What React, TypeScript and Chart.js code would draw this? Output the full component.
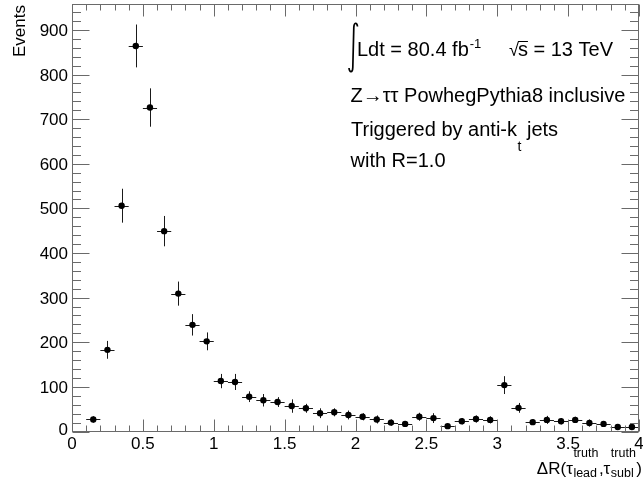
import React, { useEffect, useRef } from "react";
import { Chart, registerables } from "chart.js";

Chart.register(...registerables);

// ---- data ----
const binCenters = [
  0.15, 0.25, 0.35, 0.45, 0.55, 0.65, 0.75, 0.85, 0.95, 1.05,
  1.15, 1.25, 1.35, 1.45, 1.55, 1.65, 1.75, 1.85, 1.95, 2.05,
  2.15, 2.25, 2.35, 2.45, 2.55, 2.65, 2.75, 2.85, 2.95, 3.05,
  3.15, 3.25, 3.35, 3.45, 3.55, 3.65, 3.75, 3.85, 3.95,
];
const events = [
  27, 183, 506, 864, 726, 449, 309, 239, 202, 113,
  111, 78, 70, 66, 57, 52, 41, 43, 37, 33,
  27, 20, 17, 33, 30, 12, 23, 28, 26, 104,
  53, 21, 26, 23, 26, 19, 17, 10, 10,
];
const eventErrors = [
  7, 20, 38, 48, 43, 34, 27, 24, 20, 16,
  18, 12, 14, 11, 15, 10, 11, 9, 10, 8,
  9, 7, 6, 9, 11, 5, 7, 8, 8, 20,
  11, 6, 9, 7, 7, 8, 6, 5, 5,
];
const binHalfWidth = 0.05;

const xTickValues = [0, 0.5, 1, 1.5, 2, 2.5, 3, 3.5, 4];
const xTickLabels = ["0", "0.5", "1", "1.5", "2", "2.5", "3", "3.5", "4"];
const yTickValues = [0, 100, 200, 300, 400, 500, 600, 700, 800, 900];
const yTickLabels = ["0", "100", "200", "300", "400", "500", "600", "700", "800", "900"];
const xRange = [0, 4];
const yRange = [0, 958];

const yTitle = "Events";
const annotationLines = [
  "Z\u2192\u03c4\u03c4 PowhegPythia8 inclusive",
  "Triggered by anti-k",
  "with R=1.0",
];

const FONT = '"Liberation Sans", Arial, Helvetica, sans-serif';

const rootStylePlugin = {
  id: "rootStyle",
  beforeDatasetsDraw(chart: any) {
    const ctx = chart.ctx as CanvasRenderingContext2D;
    const xs = chart.scales.x;
    const ys = chart.scales.y;
    const area = chart.chartArea;
    ctx.save();
    ctx.strokeStyle = "#1a1a1a";
    ctx.lineWidth = 1;
    for (let i = 0; i < binCenters.length; i++) {
      const c = binCenters[i];
      const v = events[i];
      const e = eventErrors[i];
      const px = xs.getPixelForValue(c);
      const py = ys.getPixelForValue(v);
      const x0 = xs.getPixelForValue(c - binHalfWidth);
      const x1 = xs.getPixelForValue(c + binHalfWidth);
      const yTop = ys.getPixelForValue(v + e);
      const yBot = Math.min(ys.getPixelForValue(v - e), area.bottom);
      ctx.beginPath();
      ctx.moveTo(x0, Math.round(py) + 0.5);
      ctx.lineTo(x1, Math.round(py) + 0.5);
      ctx.moveTo(Math.round(px) + 0.5, yTop);
      ctx.lineTo(Math.round(px) + 0.5, yBot);
      ctx.stroke();
    }
    ctx.restore();
  },
  afterDraw(chart: any) {
    const ctx = chart.ctx as CanvasRenderingContext2D;
    const xs = chart.scales.x;
    const ys = chart.scales.y;
    const a = chart.chartArea;
    ctx.save();

    // frame
    ctx.strokeStyle = "#6a6a6a";
    ctx.lineWidth = 1;
    const L = Math.round(a.left) + 0.5;
    const R = Math.round(a.right) - 0.5;
    const T = Math.round(a.top) + 0.5;
    const B = Math.round(a.bottom) - 0.5;
    ctx.strokeRect(L, T, R - L, B - T);

    // ticks
    ctx.beginPath();
    const xMaj = 12, xMin = 6, yMaj = 17, yMin = 8.5;
    for (let k = 0; k <= 40; k++) {
      const v = k / 10;
      const px = Math.round(xs.getPixelForValue(v)) + 0.5;
      const len = k % 5 === 0 ? xMaj : xMin;
      ctx.moveTo(px, B);
      ctx.lineTo(px, B - len);
      ctx.moveTo(px, T);
      ctx.lineTo(px, T + len);
    }
    for (let v = 0; v <= yRange[1]; v += 20) {
      const py = Math.round(ys.getPixelForValue(v)) + 0.5;
      const len = v % 100 === 0 ? yMaj : yMin;
      ctx.moveTo(L, py);
      ctx.lineTo(L + len, py);
      ctx.moveTo(R, py);
      ctx.lineTo(R - len, py);
    }
    ctx.stroke();

    // tick labels
    ctx.fillStyle = "#000";
    ctx.font = `17px ${FONT}`;
    ctx.textBaseline = "alphabetic";
    ctx.textAlign = "right";
    yTickValues.forEach((v, i) => {
      const py = ys.getPixelForValue(v);
      ctx.fillText(yTickLabels[i], a.left - 4, py + 6 - (v === 0 ? 2.5 : 0));
    });
    ctx.textAlign = "center";
    xTickValues.forEach((v, i) => {
      const px = xs.getPixelForValue(v);
      ctx.fillText(xTickLabels[i], px, 448.5);
    });

    // y title
    ctx.save();
    ctx.translate(25, 5);
    ctx.rotate(-Math.PI / 2);
    ctx.textAlign = "right";
    ctx.fillText(yTitle, 0, 0);
    ctx.restore();

    // x title: ΔR(τ^truth_lead,τ^truth_subl)
    const big = `17px ${FONT}`;
    const small = `12.5px ${FONT}`;
    const parts: any[] = [
      { t: "\u0394R(\u03c4" },
      { sup: "truth", sub: "lead" },
      { t: ",\u03c4" },
      { sup: "truth", sub: "subl" },
      { t: ")" },
    ];
    let total = 0;
    parts.forEach((p) => {
      if (p.t) {
        ctx.font = big;
        p.w = ctx.measureText(p.t).width;
      } else {
        ctx.font = small;
        p.w = Math.max(ctx.measureText(p.sup).width, ctx.measureText(p.sub).width) + 1;
      }
      total += p.w;
    });
    let cx = 642 - total;
    const base = 473.5;
    ctx.textAlign = "left";
    parts.forEach((p) => {
      if (p.t) {
        ctx.font = big;
        ctx.fillText(p.t, cx, base);
      } else {
        ctx.font = small;
        ctx.fillText(p.sup, cx + 0.5, base - 17);
        ctx.fillText(p.sub, cx + 0.5, base + 3);
      }
      cx += p.w;
    });

    // annotations
    ctx.textAlign = "left";
    const ann = `20px ${FONT}`;
    // integral sign
    ctx.strokeStyle = "#000";
    ctx.lineWidth = 1.7;
    ctx.beginPath();
    ctx.moveTo(357.5, 26.5);
    ctx.bezierCurveTo(357, 22, 354, 22, 353.8, 27.5);
    ctx.lineTo(352.8, 67.5);
    ctx.bezierCurveTo(352.6, 73, 349.5, 73, 349, 68);
    ctx.stroke();

    ctx.font = ann;
    ctx.fillText("Ldt = 80.4 fb", 357, 56);
    const w1 = ctx.measureText("Ldt = 80.4 fb").width;
    ctx.font = `13px ${FONT}`;
    ctx.fillText("-1", 357 + w1 + 1, 48);

    ctx.font = ann;
    const rest = "s = 13 TeV";
    const restW = ctx.measureText(rest).width;
    const sx = 613 - restW;
    ctx.fillText(rest, sx, 56);
    ctx.font = `18px ${FONT}`;
    const rw = ctx.measureText("\u221a").width;
    ctx.fillText("\u221a", sx - rw + 1, 56);
    ctx.lineWidth = 1;
    ctx.beginPath();
    ctx.moveTo(sx, 41.5);
    ctx.lineTo(sx + 10, 41.5);
    ctx.stroke();

    ctx.font = ann;
    ctx.fillText(annotationLines[0], 350.5, 101.5);
    ctx.fillText(annotationLines[1], 351, 135.5);
    const tw = ctx.measureText(annotationLines[1]).width;
    ctx.font = `14px ${FONT}`;
    ctx.fillText("t", 351 + tw + 0.5, 151);
    ctx.font = ann;
    ctx.fillText("jets", 351 + tw + 10, 135.5);
    ctx.fillText(annotationLines[2], 350.5, 167);

    ctx.restore();
  },
};

export default function App() {
  const ref = useRef<HTMLCanvasElement>(null);
  useEffect(() => {
    const canvas = ref.current;
    if (!canvas) return;
    const chart = new Chart(canvas, {
      type: "scatter",
      data: {
        datasets: [
          {
            data: binCenters.map((x, i) => ({ x, y: events[i] })),
            pointRadius: 3.2,
            pointBackgroundColor: "#000",
            pointBorderColor: "#000",
            pointBorderWidth: 0,
            showLine: false,
          },
        ],
      },
      options: {
        animation: false,
        responsive: false,
        devicePixelRatio: 1,
        events: [],
        layout: { padding: { left: 72, right: 1.5, top: 4, bottom: 52.5 } },
        plugins: { legend: { display: false }, tooltip: { enabled: false } },
        scales: {
          x: { type: "linear", min: xRange[0], max: xRange[1], display: false },
          y: { type: "linear", min: yRange[0], max: yRange[1], display: false },
        },
      },
      plugins: [rootStylePlugin],
    });
    return () => chart.destroy();
  }, []);
  return (
    <canvas
      ref={ref}
      width={643}
      height={484}
      style={{ position: "fixed", left: 0, top: 0, width: 643, height: 484, background: "#fff" }}
    />
  );
}
